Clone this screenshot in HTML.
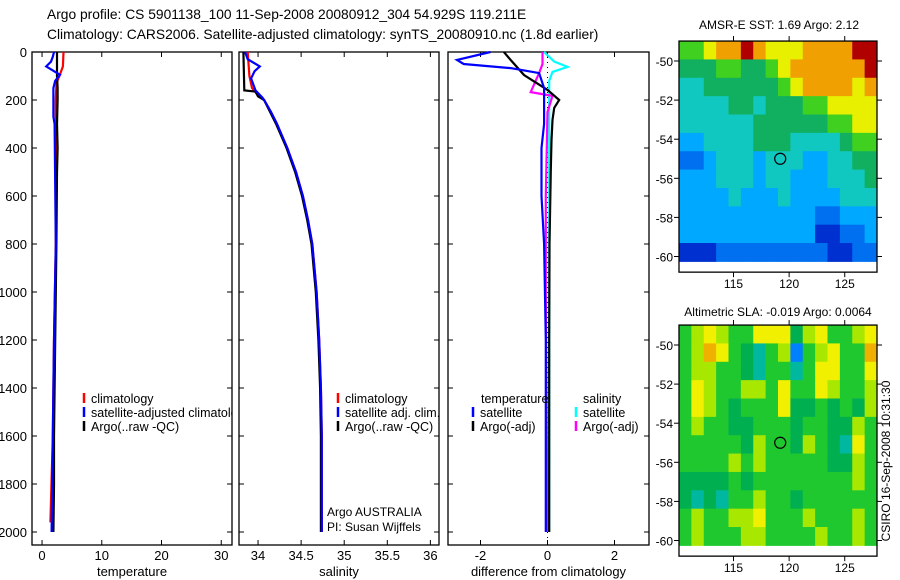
<!DOCTYPE html>
<html><head><meta charset="utf-8"><style>
body{margin:0;background:#fff;}
svg{display:block;font-family:"Liberation Sans",sans-serif;}
</style></head><body>
<svg id="fig" width="900" height="580" viewBox="0 0 900 580">
<defs><clipPath id="p1clip"><rect x="32" y="52" width="200" height="493"/></clipPath></defs>
<text x="47" y="19" font-size="13.8">Argo profile: CS 5901138_100 11-Sep-2008 20080912_304 54.929S 119.211E</text>
<text x="47" y="39" font-size="13.8">Climatology: CARS2006. Satellite-adjusted climatology: synTS_20080910.nc (1.8d earlier)</text>
<text x="327" y="516" font-size="12">Argo AUSTRALIA</text>
<text x="327" y="531" font-size="12">PI: Susan Wijffels</text>
<text x="779" y="29" font-size="12" text-anchor="middle">AMSR-E SST: 1.69 Argo: 2.12</text>
<text x="778" y="316" font-size="12" text-anchor="middle">Altimetric SLA: -0.019 Argo: 0.0064</text>
<text transform="translate(890,461) rotate(-90)" font-size="12" text-anchor="middle">CSIRO 16-Sep-2008 10:31:30</text>
</svg>
<script>
// ---------- data ----------
const tempArgoD=[0,100,150,200,300,400,500,800,1200,1600,1800,2000];
const tempArgoV=[2.5,2.5,2.6,2.6,2.5,2.6,2.5,2.4,2.2,2.0,2.0,1.9];
const tempClimD=[0,60,100,130,200,400,800,1200,1600,1960];
const tempClimV=[3.6,3.5,2.9,2.4,2.3,2.3,2.3,2.0,1.8,1.4];
const tempSatD=[0,20,40,60,80,95,120,150,270,300,800,1200,1600,2000];
const tempSatV=[2.0,1.8,1.5,0.7,2.0,3.0,2.2,1.9,1.9,2.1,2.3,2.0,1.8,1.6];
const deepD=[250,300,400,500,600,700,800,1000,1200,1400,1600,2000];
const deepS=[34.15,34.22,34.34,34.44,34.52,34.58,34.63,34.68,34.71,34.73,34.74,34.74];
const salArgoD=[0,160,165,185,200];
const salArgoV=[33.83,33.84,33.97,34.0,34.07];
const salClimD=[0,100,150,180,200];
const salClimV=[33.88,33.9,33.93,34.0,34.07];
const salSatD=[0,30,60,80,110,160,190,200];
const salSatV=[33.85,33.88,34.02,33.96,33.92,33.97,34.05,34.07];
const dTSatD=[0,33,50,67,88,150,300,400,600,800,1200,2000];
const dTSatV=[-1.7,-2.7,-2.5,-1.1,-0.25,-0.1,-0.1,-0.18,-0.18,-0.1,-0.05,-0.05];
const dTArgoD=[0,33,96,158,200,233,283,367,490,800,1200,2000];
const dTArgoV=[-1.3,-1.1,-0.7,0,0.35,0.2,0.15,0.12,0.1,0.06,0.05,0.05];
const dSSatD=[0,40,62,83,120,300,800,2000];
const dSSatV=[-0.1,0.2,0.6,0.15,0.05,0.05,0.05,0.05];
const dSArgoD=[0,50,88,167,183,250,600,1000,2000];
const dSArgoV=[-0.15,-0.15,-0.25,-0.5,0.15,0.0,-0.05,-0.05,0.0];
const depthTicks=[0,200,400,600,800,1000,1200,1400,1600,1800,2000];
const tempTicks=[0,10,20,30];
const salTicks=[34,34.5,35,35.5,36];
const salTickLabels=["34","34.5","35","35.5","36"];
const diffTicks=[-2,0,2];
const lonTicks=[115,120,125];
const latTicks=[-50,-52,-54,-56,-58,-60];
const sstGrid=[
[7,7,8,9,9,10,9,8,8,8,9,9,9,9,10,10],
[6,6,6,7,7,6,6,7,8,9,9,9,9,9,9,10],
[5,5,6,6,6,6,6,6,7,8,9,9,9,9,8,9],
[5,5,5,5,6,6,5,6,6,6,7,7,8,8,8,8],
[5,5,5,5,5,5,6,6,6,6,6,6,7,7,8,8],
[4,4,5,5,5,5,6,6,6,5,5,5,5,6,7,7],
[3,3,4,5,5,5,4,5,5,5,4,4,5,5,6,6],
[4,4,4,5,5,5,4,5,5,4,4,4,5,5,5,6],
[4,4,4,4,5,4,4,4,5,4,4,4,4,5,5,5],
[4,4,4,4,4,4,4,4,4,4,4,3,3,4,4,4],
[4,4,4,4,4,4,4,4,4,4,4,2,2,3,3,4],
[2,2,2,3,3,3,3,3,3,3,3,3,2,2,3,3]];
const slaGrid=[
[6,7,8,7,6,6,8,8,8,5,7,8,6,6,7,8],
[6,7,9,8,6,5,4,6,7,3,6,7,8,6,6,9],
[6,7,7,6,6,5,4,6,6,4,6,8,8,6,6,8],
[6,8,7,6,6,7,7,6,8,6,6,8,7,6,6,7],
[6,8,7,6,5,6,6,6,8,5,5,6,5,6,5,7],
[6,7,6,6,5,5,6,6,6,5,6,6,5,5,7,6],
[6,6,6,6,6,5,7,6,6,5,7,6,5,4,8,6],
[6,6,6,6,7,6,7,6,6,6,6,6,5,5,7,6],
[5,5,5,5,6,5,6,6,6,6,6,6,6,6,7,6],
[5,4,5,4,6,6,7,6,6,5,6,6,6,6,6,6],
[6,7,6,6,7,7,8,6,6,6,7,6,6,6,7,6],
[6,7,6,6,6,7,7,6,6,6,6,7,6,6,7,6]];
const argoLon=[119.2];
const argoLat=[-55.0];

// ---------- helpers ----------
const NS="http://www.w3.org/2000/svg";
const svg=document.getElementById('fig');
function mk(tag,attrs){const e=document.createElementNS(NS,tag);for(const k in attrs)e.setAttribute(k,attrs[k]);svg.appendChild(e);return e;}
const yD=d=>52+d*0.24;

function panel(name,x0,x1,vmin,vmax,ticks,labels,title,leftLabels){
  const xs=v=>x0+(v-vmin)/(vmax-vmin)*(x1-x0);
  const r=mk('rect',{x:x0,y:52,width:x1-x0,height:493,fill:'none',stroke:'#000','stroke-width':1.3});
  
  
  depthTicks.forEach(d=>{
    const t1=mk('line',{x1:x0,x2:x0+5,y1:yD(d),y2:yD(d),stroke:'#000'});
    
    
    const t2=mk('line',{x1:x1-5,x2:x1,y1:yD(d),y2:yD(d),stroke:'#000'});
    
    
    if(leftLabels){
      const tl=mk('text',{x:x0-5,y:yD(d)+5,'font-size':13,'text-anchor':'end'});
      tl.textContent=String(d);
      
      
    }
  });
  ticks.forEach((v,i)=>{
    const a=mk('line',{x1:xs(v),x2:xs(v),y1:52,y2:57,stroke:'#000'});
    
    
    const b=mk('line',{x1:xs(v),x2:xs(v),y1:540,y2:545,stroke:'#000'});
    
    
    const l=mk('text',{x:xs(v),y:560,'font-size':13,'text-anchor':'middle'});
    l.textContent=labels[i];
    
    
  });
  const tt=mk('text',{x:(x0+x1)/2,y:576,'font-size':13,'text-anchor':'middle'});
  tt.textContent=title;
  
  
  return xs;
}
function line(xs,D,V,color,name){
  const pts=D.map((d,i)=>xs(V[i]).toFixed(1)+','+yD(d).toFixed(1)).join(' ');
  const p=mk('polyline',{points:pts,fill:'none',stroke:color,'stroke-width':2.2});
  
  
}
function legend(x,y,color,label,name,clip){
  const b=mk('line',{x1:x,x2:x,y1:y-10,y2:y,stroke:color,'stroke-width':2.5});
  
  
  const t=mk('text',{x:x+7,y:y,'font-size':12.5});
  if(clip)t.setAttribute('clip-path','url(#p1clip)');
  t.textContent=label;
  
  
}

// temperature panel
const xT=panel('temperature-panel',32,232,-1.68,31.8,tempTicks,tempTicks.map(String),'temperature',true);
line(xT,tempClimD,tempClimV,'#f00','temp-climatology-line');
line(xT,tempArgoD,tempArgoV,'#000','temp-argo-line');
line(xT,tempSatD,tempSatV,'#00f','temp-satellite-line');
legend(84,403,'#f00','climatology','temp-legend-climatology',true);
legend(84,417,'#00f','satellite-adjusted climatology','temp-legend-satellite',true);
legend(84,431,'#000','Argo(..raw -QC)','temp-legend-argo',true);

// salinity panel
const xS=panel('salinity-panel',239,439,33.779,36.1,salTicks,salTickLabels,'salinity',false);
line(xS,salClimD.concat(deepD),salClimV.concat(deepS),'#f00','sal-climatology-line');
line(xS,salArgoD.concat(deepD),salArgoV.concat(deepS.map(s=>s-0.01)),'#000','sal-argo-line');
line(xS,salSatD.concat(deepD),salSatV.concat(deepS),'#00f','sal-satellite-line');
legend(338,403,'#f00','climatology','sal-legend-climatology',false);
legend(338,417,'#00f','satellite adj. clim.','sal-legend-satellite',false);
legend(338,431,'#000','Argo(..raw -QC)','sal-legend-argo',false);

// difference panel
const xDf=panel('difference-panel',448,649,-2.97,3.03,diffTicks,diffTicks.map(String),'difference from climatology',false);
const zl=mk('line',{x1:xDf(0),x2:xDf(0),y1:52,y2:545,stroke:'#000','stroke-dasharray':'1,4'});


line(xDf,dSSatD,dSSatV,'#0ff','diff-sal-satellite-line');
line(xDf,dSArgoD,dSArgoV,'#f0f','diff-sal-argo-line');
line(xDf,dTArgoD,dTArgoV,'#000','diff-temp-argo-line');
line(xDf,dTSatD,dTSatV,'#00f','diff-temp-satellite-line');
const lt=mk('text',{x:481,y:403,'font-size':12.5});lt.textContent='temperature';


const ls=mk('text',{x:583,y:403,'font-size':12.5});ls.textContent='salinity';


legend(473,417,'#00f','satellite','diff-legend-temp-satellite',false);
legend(473,431,'#000','Argo(-adj)','diff-legend-temp-argo',false);
legend(576,417,'#0ff','satellite','diff-legend-sal-satellite',false);
legend(576,431,'#f0f','Argo(-adj)','diff-legend-sal-argo',false);

// maps
const sstColors={2:'#0030d0',3:'#0070f0',4:'#00a8ff',5:'#10c8c0',6:'#10b060',7:'#40d020',8:'#e8f000',9:'#f0a000',10:'#b00000'};
const slaColors={3:'#0080ff',4:'#00b8a0',5:'#00b050',6:'#20c830',7:'#a8e800',8:'#f0f000',9:'#f0b000'};
function map(name,top,grid,colors){
  const L=679,R=877,lonMin=110.1,lonMax=127.9;
  const y50=top+20, ppd=19.55;
  const xl=v=>L+(v-lonMin)/(lonMax-lonMin)*(R-L);
  const yl=v=>y50+(-50-v)*ppd;
  const nR=grid.length,nC=grid[0].length;
  const cw=(lonMax-lonMin)/nC;
  grid.forEach((row,i)=>row.forEach((v,j)=>{
    const la0=-48.98-i*(11.27/nR), la1=la0-11.27/nR;
    const c=mk('rect',{x:xl(lonMin+j*cw),y:yl(la0),width:xl(lonMin+(j+1)*cw)-xl(lonMin+j*cw)+0.5,height:yl(la1)-yl(la0)+0.5,fill:colors[v]});
    
    
  }));
  const bottom=yl(-60.8);
  const f=mk('rect',{x:L,y:yl(-48.98),width:R-L,height:bottom-yl(-48.98),fill:'none',stroke:'#000','stroke-width':1.3});
  
  
  latTicks.forEach(v=>{
    const t=mk('line',{x1:L-5,x2:L,y1:yl(v),y2:yl(v),stroke:'#000'});
    
    
    const t2=mk('line',{x1:R,x2:R+5,y1:yl(v),y2:yl(v),stroke:'#000'});
    
    
    const l=mk('text',{x:L-6,y:yl(v)+5,'font-size':12,'text-anchor':'end'});
    l.textContent=String(v);
    
    
  });
  lonTicks.forEach(v=>{
    const t=mk('line',{x1:xl(v),x2:xl(v),y1:bottom,y2:bottom+5,stroke:'#000'});
    
    
    const t2=mk('line',{x1:xl(v),x2:xl(v),y1:yl(-48.98)-5,y2:yl(-48.98),stroke:'#000'});
    
    
    const l=mk('text',{x:xl(v),y:bottom+16,'font-size':12,'text-anchor':'middle'});
    l.textContent=String(v);
    
    
  });
  const m=mk('circle',{cx:xl(argoLon[0]),cy:yl(argoLat[0]),r:5.5,fill:'none',stroke:'#000','stroke-width':1.2});
  
  
}
map('sst-map',41,sstGrid,sstColors);
map('sla-map',325,slaGrid,slaColors);
</script>
</body></html>
